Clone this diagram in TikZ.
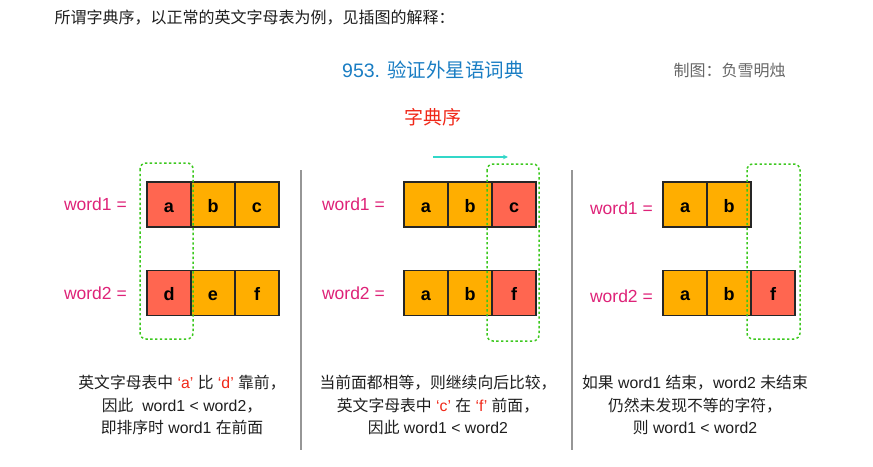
\documentclass[tikz,border=0pt]{standalone}
\usepackage{fontspec}
\setmainfont{Liberation Sans}
\newfontfamily\cjk{Noto Sans CJK SC}
\usepackage{tikz}
\usetikzlibrary{positioning,arrows.meta}
\usepackage{xcolor}
\definecolor{RedCell}{RGB}{255,102,80}
\definecolor{OrangeCell}{RGB}{255,174,0}
\definecolor{WordPink}{RGB}{222,34,120}
\definecolor{DashGreen}{RGB}{60,200,30}
\definecolor{TitleBlue}{RGB}{25,125,195}
\definecolor{ArrowCyan}{RGB}{50,215,200}
\definecolor{SepGray}{RGB}{150,150,150}
\definecolor{NoteRed}{RGB}{240,40,25}
\definecolor{TextDark}{RGB}{30,30,30}
\newcommand{\zh}[1]{{\cjk #1}}

\begin{document}
\begin{tikzpicture}[
    x=1pt, y=-1pt,
    cell/.style={rectangle, draw=black!85, line width=1.4pt, outer sep=0pt,
                 minimum width=44pt, minimum height=45pt, inner sep=0pt,
                 text height=15.6pt, text depth=0pt,
                 font=\fontsize{18}{20}\selectfont\bfseries},
    hit/.style={cell, fill=RedCell},
    same/.style={cell, fill=OrangeCell},
    wordlabel/.style={text=WordPink, font=\fontsize{17.5}{20}\selectfont, inner sep=0pt},
    note/.style={align=center, text=TextDark, font=\fontsize{15.8}{22.5}\selectfont},
    column/.style={draw=DashGreen, line width=1.5pt, dash pattern=on 2.4pt off 2.4pt,
                   rounded corners=6pt},
    divider/.style={draw=SepGray, line width=1.2pt}
]
    \useasboundingbox (0,0) rectangle (873,466);

    % header
    \node[anchor=west, text=TextDark, font=\cjk\fontsize{16}{18}\selectfont] (intro) at (51,18)
        {所谓字典序，以正常的英文字母表为例，见插图的解释：};
    \node[text=TitleBlue, font=\fontsize{19.5}{22}\selectfont] (title) at (433,70) {953. \zh{验证外星语词典}};
    \node[anchor=west, text=black!60, font=\cjk\fontsize{16}{18}\selectfont] (author) at (670,70) {制图：负雪明烛};
    \node[text=NoteRed, font=\cjk\fontsize{19}{21}\selectfont] (heading) at (433,117) {字典序};

    % panel 1: first letters differ
    \node[hit] (pa1) at (169,204.5) {a};
    \node[same, right=0pt of pa1] (pb1) {b};
    \node[same, right=0pt of pb1] (pc1) {c};
    \node[hit] (pd2) at (169,293) {d};
    \node[same, right=0pt of pd2] (pe2) {e};
    \node[same, right=0pt of pe2] (pf2) {f};
    \node[wordlabel, left=20pt of pa1] (plabel1) {word1 =};
    \node[wordlabel, left=20pt of pd2] (plabel2) {word2 =};
    \draw[column] (140,163) rectangle (193,339);

    % panel 2: prefix equal, third letter differs
    \node[same] (qa1) at (426,204.5) {a};
    \node[same, right=0pt of qa1] (qb1) {b};
    \node[hit, right=0pt of qb1] (qc1) {c};
    \node[same] (qa2) at (426,293) {a};
    \node[same, right=0pt of qa2] (qb2) {b};
    \node[hit, right=0pt of qb2] (qf2) {f};
    \node[wordlabel, left=19pt of qa1] (qlabel1) {word1 =};
    \node[wordlabel, left=19pt of qa2] (qlabel2) {word2 =};
    \draw[column] (487,164) rectangle (539,341);
    \coordinate (sweepstart) at (433,157);
    \coordinate (sweepend) at (508,157);
    \draw[ArrowCyan, line width=1.4pt, -{Stealth[length=5pt, width=4.5pt]}] (sweepstart) -- (sweepend);

    % panel 3: word1 runs out first
    \node[same] (ra1) at (685,204.5) {a};
    \node[same, right=0pt of ra1] (rb1) {b};
    \node[same] (ra2) at (685,293) {a};
    \node[same, right=0pt of ra2] (rb2) {b};
    \node[hit, right=0pt of rb2] (rf2) {f};
    \node[wordlabel, left=10pt of ra1, yshift=-4pt] (rlabel1) {word1 =};
    \node[wordlabel, left=10pt of ra2, yshift=-3pt] (rlabel2) {word2 =};
    \draw[column] (747,164) rectangle (800,339);

    % dividers
    \draw[divider] (301,170) -- (301,450);
    \draw[divider] (572,170) -- (572,450);

    % notes
    \node[note] (pnote) at (182,405)
        {\zh{英文字母表中} {\color{NoteRed}‘a’} \zh{比} {\color{NoteRed}‘d’} \zh{靠前，}\\
         \zh{因此}\ \ word1 < word2\zh{，}\\
         \zh{即排序时} word1 \zh{在前面}};
    \node[note] (qnote) at (438,405)
        {\zh{当前面都相等，则继续向后比较，}\\
         \zh{英文字母表中} {\color{NoteRed}‘c’} \zh{在} {\color{NoteRed}‘f’} \zh{前面，}\\
         \zh{因此} word1 < word2};
    \node[note] (rnote) at (695,405)
        {\zh{如果} word1 \zh{结束，}word2 \zh{未结束}\\
         \zh{仍然未发现不等的字符，}\\
         \zh{则} word1 < word2};
\end{tikzpicture}
\end{document}
